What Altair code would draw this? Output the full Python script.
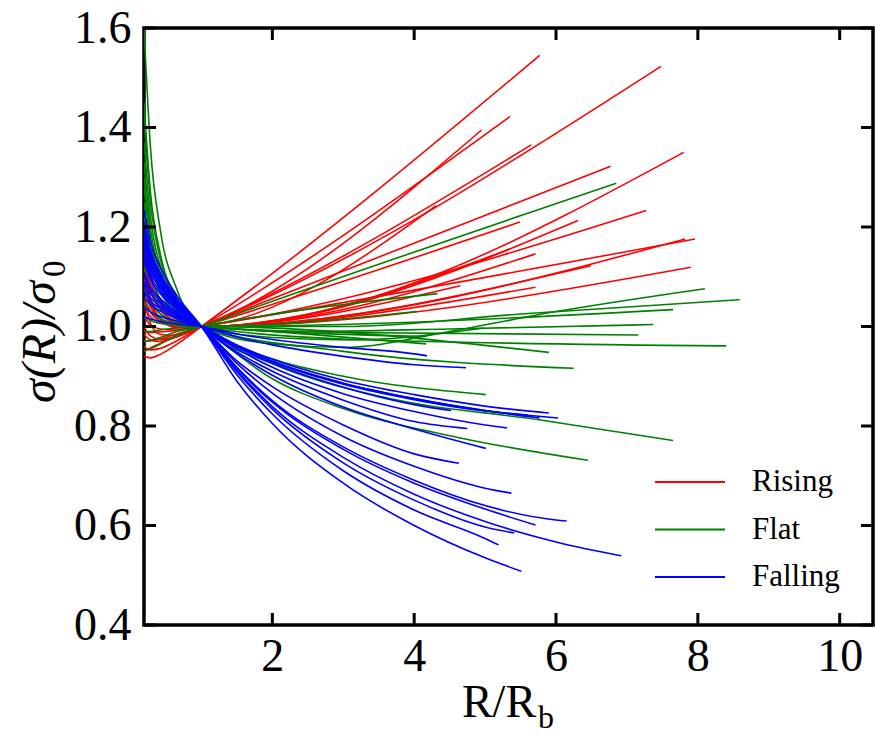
import altair as alt
import pandas as pd

# ---------------- data ----------------
inner_x = [0.19, 0.28, 0.42, 0.65]

red_x_end = [5.77, 7.48, 5.35, 4.95, 5.65, 7.80, 6.77, 4.31, 7.27, 6.31,
             5.49, 5.35, 5.71, 7.82, 7.96, 6.49, 7.90, 4.65, 5.71]
red_y_end = [1.545, 1.523, 1.422, 1.395, 1.365, 1.350, 1.322, 1.243, 1.233, 1.213,
             1.210, 1.156, 1.146, 1.176, 1.176, 1.122, 1.119, 1.082, 1.079]
red_y_inner = [
    [0.94, 0.937, 0.944, 0.964],
    [1.00, 0.981, 0.974, 0.980],
    [0.96, 0.953, 0.956, 0.971],
    [1.05, 1.007, 0.984, 0.982],
    [0.985, 0.973, 0.970, 0.979],
    [1.10, 1.048, 1.016, 1.000],
    [0.95, 0.957, 0.966, 0.980],
    [1.12, 1.056, 1.016, 0.997],
    [1.02, 1.003, 0.995, 0.993],
    [1.15, 1.081, 1.036, 1.009],
    [0.97, 0.971, 0.975, 0.985],
    [1.08, 1.040, 1.015, 1.001],
    [1.19, 1.108, 1.052, 1.016],
    [1.06, 1.030, 1.011, 1.001],
    [0.99, 0.988, 0.989, 0.992],
    [1.13, 1.073, 1.035, 1.011],
    [1.04, 1.020, 1.008, 1.001],
    [1.10, 1.055, 1.025, 1.007],
    [1.16, 1.093, 1.047, 1.016],
]

green_y_inner = [
    [0.95, 0.955, 0.965, 0.982],
    [0.97, 0.972, 0.978, 0.990],
    [1.33, 1.199, 1.107, 1.042],
    [1.22, 1.133, 1.071, 1.028],
    [1.42, 1.253, 1.136, 1.053],
    [1.05, 1.030, 1.016, 1.006],
    [1.60, 1.362, 1.194, 1.076],
    [1.28, 1.169, 1.091, 1.035],
    [1.17, 1.103, 1.055, 1.021],
    [1.12, 1.072, 1.039, 1.015],
    [1.02, 1.012, 1.006, 1.003],
    [1.08, 1.048, 1.026, 1.010],
    [0.99, 0.990, 0.993, 0.997],
    [1.25, 1.151, 1.081, 1.032],
    [1.37, 1.223, 1.120, 1.047],
    [1.45, 1.271, 1.146, 1.057],
    [1.30, 1.181, 1.097, 1.038],
]
green_outer = [
    [[6.85, 1.288]],
    [[4.33, 1.066]],
    [[2.0, 0.965], [3.0, 0.958], [4.5, 0.990], [6.0, 1.030], [8.10, 1.076]],
    [[3.0, 1.000], [5.5, 1.025], [8.59, 1.054]],
    [[7.65, 1.034]],
    [[4.04, 1.030]],
    [[2.5, 0.990], [4.5, 0.995], [7.37, 1.004]],
    [[3.0, 0.988], [7.16, 0.983]],
    [[2.0, 0.978], [3.1, 0.973], [4.98, 0.997]],
    [[4.17, 0.980]],
    [[4.17, 0.965]],
    [[3.0, 0.975], [8.40, 0.961]],
    [[5.90, 0.948]],
    [[3.0, 0.950], [6.25, 0.916]],
    [[2.0, 0.935], [3.0, 0.900], [5.01, 0.863]],
    [[2.0, 0.925], [3.5, 0.860], [5.78, 0.812], [7.65, 0.771]],
    [[2.0, 0.895], [3.0, 0.835], [4.65, 0.776], [6.45, 0.731]],
]

blue_y_inner = [
    [1.02, 1.015, 1.010, 1.005],
    [1.04, 1.029, 1.020, 1.011],
    [1.09, 1.066, 1.046, 1.024],
    [1.07, 1.051, 1.036, 1.019],
    [1.11, 1.080, 1.056, 1.030],
    [1.13, 1.095, 1.066, 1.035],
    [1.10, 1.073, 1.051, 1.027],
    [1.15, 1.110, 1.077, 1.041],
    [1.14, 1.102, 1.071, 1.038],
    [1.17, 1.124, 1.087, 1.046],
    [1.16, 1.117, 1.082, 1.043],
    [1.19, 1.139, 1.097, 1.051],
    [1.18, 1.131, 1.092, 1.049],
    [1.21, 1.153, 1.107, 1.057],
    [1.20, 1.146, 1.102, 1.054],
    [1.234, 1.171, 1.119, 1.063],
    [1.06, 1.044, 1.031, 1.016],
    [1.08, 1.058, 1.041, 1.022],
]
blue_x_out = [1.5, 2.0, 3.0, 4.0, 5.0, 6.0]
blue_y_out = [
    [0.985, 0.974, 0.958, 0.945],
    [0.979, 0.963, 0.940, 0.923],
    [0.958, 0.926, 0.878, 0.843],
    [0.961, 0.930, 0.886, 0.855, 0.831],
    [0.961, 0.930, 0.886, 0.855, 0.831],
    [0.949, 0.910, 0.852, 0.809],
    [0.955, 0.918, 0.865, 0.829, 0.802],
    [0.946, 0.902, 0.838, 0.794],
    [0.931, 0.879, 0.802, 0.744],
    [0.926, 0.866, 0.779, 0.719, 0.675],
    [0.918, 0.851, 0.758, 0.691, 0.640, 0.611],
    [0.916, 0.848, 0.753, 0.685, 0.633],
    [0.909, 0.834, 0.726, 0.651, 0.597],
    [0.912, 0.839, 0.737, 0.663, 0.608, 0.567],
    [0.903, 0.824, 0.710, 0.631, 0.574],
    [0.890, 0.805, 0.685, 0.600, 0.535],
    [0.961, 0.929, 0.884, 0.853, 0.830],
    [0.963, 0.934, 0.892, 0.863, 0.840],
]
blue_x_end = [4.18, 4.73, 4.52, 6.03, 5.77, 4.75, 5.31, 5.01, 4.63, 5.37,
              6.15, 5.71, 5.41, 6.92, 5.19, 5.51, 5.60, 5.90]
blue_y_end = [0.941, 0.917, 0.831, 0.816, 0.816, 0.795, 0.796, 0.755, 0.725, 0.665,
              0.609, 0.601, 0.585, 0.539, 0.561, 0.508, 0.822, 0.826]

x_ticks = [2, 4, 6, 8, 10]
y_ticks = [0.4, 0.6, 0.8, 1.0, 1.2, 1.4, 1.6]
legend_labels = ["Rising", "Flat", "Falling"]
legend_colors = ["#ff0000", "#008000", "#0000ff"]
x_title = "R/R"
x_title_sub = "b"
y_title = "σ(R)/σ"
y_title_sub = "0"

# ---------------- long tables ----------------
def build(prefix, inners, outers):
    rows = []
    for i, (yin, out) in enumerate(zip(inners, outers)):
        pts = list(zip(inner_x, yin)) + [(1.0, 1.0)] + [tuple(p) for p in out]
        for k, (x, y) in enumerate(pts):
            rows.append({"line": f"{prefix}{i}", "x": x, "y": y, "k": k})
    return pd.DataFrame(rows)

red_outer = [[[xe, ye]] for xe, ye in zip(red_x_end, red_y_end)]
blue_outer = []
for ys, xe, ye in zip(blue_y_out, blue_x_end, blue_y_end):
    blue_outer.append([[x, y] for x, y in zip(blue_x_out, ys) if x < xe] + [[xe, ye]])

red_df = build("r", red_y_inner, red_outer)
green_df = build("g", green_y_inner, green_outer)
blue_df = build("b", blue_y_inner, blue_outer)

W, H = 729, 597
FONT = "Liberation Serif"
xscale = alt.Scale(domain=[0.19, 10.47], nice=False, zero=False)
yscale = alt.Scale(domain=[0.4, 1.6], nice=False, zero=False)

xaxis = alt.Axis(values=x_ticks, format="d", title=None, grid=False, domain=False,
                 ticks=False, tickSize=0, labelFont=FONT, labelFontSize=46,
                 labelColor="black", labelPadding=9, labelFlush=False)
yaxis = alt.Axis(values=y_ticks, format=".1f", title=None, grid=False, domain=False,
                 ticks=False, tickSize=0, labelFont=FONT, labelFontSize=46,
                 labelColor="black", labelPadding=13, labelFlush=False)


def lines(df, color):
    return alt.Chart(df).mark_line(color=color, strokeWidth=1.6,
                                   interpolate="monotone", clip=True).encode(
        x=alt.X("x:Q", scale=xscale, axis=xaxis),
        y=alt.Y("y:Q", scale=yscale, axis=yaxis),
        detail="line:N",
        order="k:Q",
    )


layers = [lines(red_df, "#ff0000"), lines(green_df, "#008000"),
          lines(blue_df, "#0000ff")]

xt = pd.DataFrame({"x": x_ticks})
yt = pd.DataFrame({"y": y_ticks})
TL = 12
for y0, y1 in [(H, H - TL), (0, TL)]:
    layers.append(alt.Chart(xt).mark_rule(color="black", strokeWidth=3).encode(
        x=alt.X("x:Q", scale=xscale, axis=xaxis), y=alt.value(y0), y2=alt.value(y1)))
for x0, x1 in [(0, TL), (W, W - TL)]:
    layers.append(alt.Chart(yt).mark_rule(color="black", strokeWidth=3).encode(
        y=alt.Y("y:Q", scale=yscale, axis=yaxis), x=alt.value(x0), x2=alt.value(x1)))

# legend (inside plot, lower right)
leg = pd.DataFrame({"label": legend_labels, "color": legend_colors})
for i, (lab, col) in enumerate(zip(legend_labels, legend_colors)):
    yy = 454 + 47.5 * i
    layers.append(alt.Chart(leg).transform_filter(alt.datum.label == lab).mark_rule(
        color=col, strokeWidth=2).encode(x=alt.value(511), x2=alt.value(581), y=alt.value(yy)))
    layers.append(alt.Chart(leg).transform_filter(alt.datum.label == lab).mark_text(
        font=FONT, fontSize=31, align="left", baseline="middle", color="black").encode(
        text="label:N", x=alt.value(608), y=alt.value(yy)))

# axis titles
tdf = pd.DataFrame({"t": [x_title], "s": [x_title_sub],
                    "yt": [y_title], "ys": [y_title_sub]})
layers.append(alt.Chart(tdf).mark_text(font=FONT, fontSize=46, align="center",
                                       baseline="alphabetic", color="black").encode(
    text="t:N", x=alt.value(355), y=alt.value(689)))
layers.append(alt.Chart(tdf).mark_text(font=FONT, fontSize=32, align="left",
                                       baseline="alphabetic", color="black").encode(
    text="s:N", x=alt.value(394), y=alt.value(700)))
layers.append(alt.Chart(tdf).mark_text(font=FONT, fontSize=48, fontStyle="italic",
                                       angle=270, align="left", baseline="alphabetic",
                                       color="black").encode(
    text="yt:N", x=alt.value(-89), y=alt.value(375)))
layers.append(alt.Chart(tdf).mark_text(font=FONT, fontSize=33, angle=270, align="left",
                                       baseline="alphabetic", color="black").encode(
    text="ys:N", x=alt.value(-79), y=alt.value(249)))

chart = alt.layer(*layers).properties(
    width=W, height=H,
    padding={"left": 144, "top": 28, "right": 2, "bottom": 113},
    autosize=alt.AutoSizeParams(type="none"),
    background="white",
).configure_view(stroke="black", strokeWidth=3.5)

chart.save("out.html", embed_options={"renderer": "svg", "actions": False})
